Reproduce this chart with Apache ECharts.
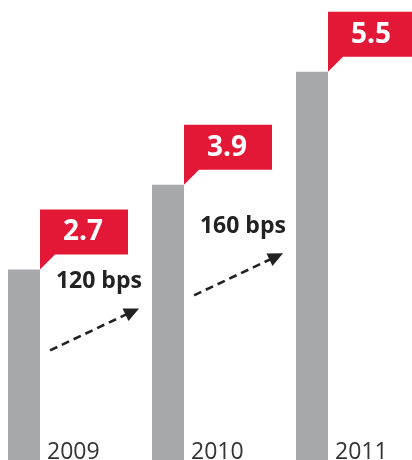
<!DOCTYPE html>
<html><head><meta charset="utf-8">
<script src="https://cdn.jsdelivr.net/npm/echarts@6/dist/echarts.min.js"></script>
<style>html,body{margin:0;padding:0;background:#fff}#c{width:412px;height:460px}</style>
</head><body><div id="c"></div>
<script>
const years = ['2009', '2010', '2011'];
const values = [2.7, 3.9, 5.5];
const growthLabels = ['120 bps', '160 bps'];
const arrowLevels = [1.85, 2.63];

const chart = echarts.init(document.getElementById('c'));
const RED = '#e31837', GRAY = '#a7a8ab', DARK = '#222';

function calloutItem(params, api) {
  const top = api.coord([api.value(0), api.value(1)]);
  const base = api.coord([api.value(0), 0]);
  const bx = top[0] + 16, by = top[1];
  return {
    type: 'group',
    children: [
      { type: 'polygon', shape: { points: [[bx, by - 60], [bx + 88, by - 60], [bx + 88, by - 15], [bx + 15, by - 15], [bx, by]] },
        style: { fill: RED } },
      { type: 'text', style: { text: String(api.value(1)), x: bx + 43, y: by - 37, fill: '#fff',
        font: 'bold 28px "Open Sans"', align: 'center', verticalAlign: 'middle' } },
      { type: 'text', style: { text: years[params.dataIndex], x: bx + 7, y: base[1] - 8, fill: '#333',
        font: '23px "Open Sans"', align: 'left', verticalAlign: 'middle' } }
    ]
  };
}

function arrowItem(params, api) {
  const i = api.value(0);
  const mid = api.coord([i + 0.49, api.value(1)]);
  const dx = 44.5, dy = -21;
  const sx = mid[0] - dx, sy = mid[1] - dy, ex = mid[0] + dx, ey = mid[1] + dy;
  const len = Math.hypot(ex - sx, ey - sy), ux = (ex - sx) / len, uy = (ey - sy) / len;
  const hl = 15, hw = 7;
  const hb = [ex - ux * hl, ey - uy * hl];
  const lbl = api.coord([i + 0.52, api.value(1)]);
  return {
    type: 'group',
    children: [
      { type: 'line', shape: { x1: sx, y1: sy, x2: hb[0] + ux * 2, y2: hb[1] + uy * 2 },
        style: { stroke: DARK, lineWidth: 2.6, lineDash: [8, 5] } },
      { type: 'polygon', shape: { points: [[ex, ey], [hb[0] - uy * hw, hb[1] + ux * hw], [hb[0] + uy * hw, hb[1] - ux * hw]] },
        style: { fill: DARK } },
      { type: 'text', style: { text: growthLabels[params.dataIndex], x: lbl[0], y: mid[1] - 48, fill: DARK,
        font: 'bold 23px "Open Sans"', align: 'center', verticalAlign: 'middle' } }
    ]
  };
}

chart.setOption({
  animation: false,
  grid: { left: 0, right: 0, top: 0, bottom: 0 },
  xAxis: { type: 'value', min: -1 / 6, max: -1 / 6 + 412 / 144, show: false },
  yAxis: { type: 'value', min: 0, max: 460 / 70.6, show: false },
  series: [
    { type: 'bar', data: values.map((v, i) => [i, v]), barWidth: 32, itemStyle: { color: GRAY } },
    { type: 'custom', renderItem: calloutItem, data: values.map((v, i) => [i, v]), clip: false, z: 3 },
    { type: 'custom', renderItem: arrowItem, data: arrowLevels.map((v, i) => [i, v]), clip: false, z: 3 }
  ]
});
</script></body></html>
